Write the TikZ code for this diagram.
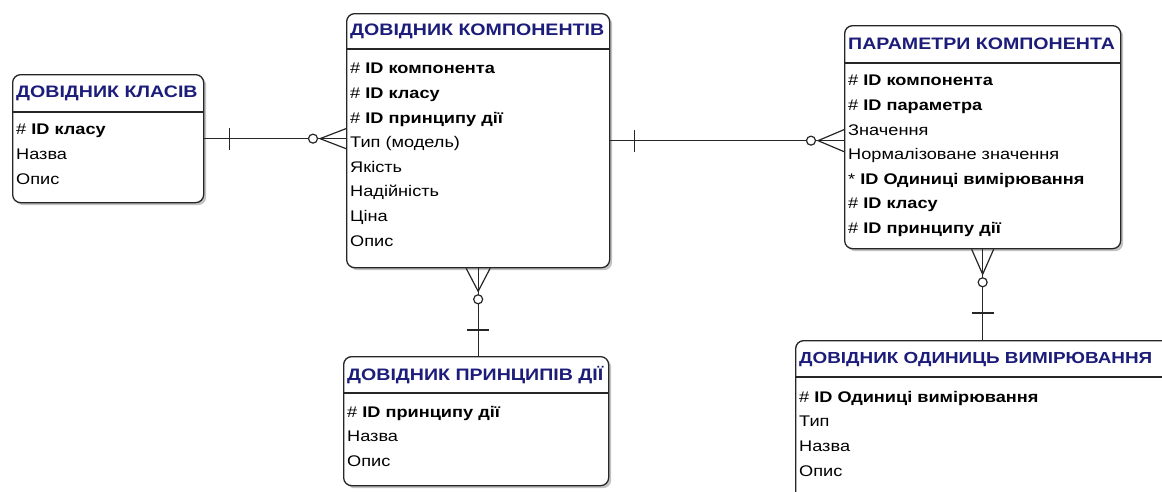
\documentclass[tikz,border=0pt]{standalone}
\usepackage{fontspec}
\setmainfont{Liberation Sans}[FakeStretch=1.18]
\usetikzlibrary{calc}
\usetikzlibrary{shadows}
\definecolor{hdrblue}{RGB}{28,28,122}

\begin{document}
\begin{tikzpicture}[x=1pt, y=-1pt,
  entity/.style={draw=black!85, line width=1.3pt, rounded corners=8pt, fill=white, anchor=north west, inner sep=0pt,
    drop shadow={shadow xshift=2.5pt, shadow yshift=-2.5pt, fill=black!40, opacity=0.6}},
  title/.style={anchor=west, inner sep=0pt, text=hdrblue, font=\fontsize{16.6}{18}\selectfont\bfseries},
  attrs/.style={anchor=north west, inner sep=0pt, align=left, font=\fontsize{15.4}{24.6}\selectfont},
  rel/.style={line width=1.2pt, draw=black!85},
  ring/.style={circle, draw=black!85, line width=1.2pt, fill=white, inner sep=0pt, minimum size=9pt}]
\useasboundingbox (0,0) rectangle (1162,491);
\clip (0,0) rectangle (1162,491);

  \node[entity, minimum width=191, minimum height=128] (kl) at (12,74) {};
  \draw[rel] ($(kl.north west)+(0,38)$) -- ($(kl.north east)+(0,38)$);
  \node[title] (kl-t) at ($(kl.north west)+(4,19)$) {ДОВІДНИК КЛАСІВ};
  \node[attrs] (kl-a) at ($(kl.north west)+(4,50)$) {\# \textbf{ID класу}\\Назва\\Опис};

  \node[entity, minimum width=263, minimum height=254] (komp) at (346,13) {};
  \draw[rel] ($(komp.north west)+(0,36)$) -- ($(komp.north east)+(0,36)$);
  \node[title] (komp-t) at ($(komp.north west)+(4,18)$) {ДОВІДНИК КОМПОНЕНТІВ};
  \node[attrs] (komp-a) at ($(komp.north west)+(4,50)$) {\# \textbf{ID компонента}\\\# \textbf{ID класу}\\\# \textbf{ID принципу дії}\\Тип (модель)\\Якість\\Надійність\\Ціна\\Опис};

  \node[entity, minimum width=276, minimum height=223] (par) at (844,25) {};
  \draw[rel] ($(par.north west)+(0,38)$) -- ($(par.north east)+(0,38)$);
  \node[title] (par-t) at ($(par.north west)+(4,19)$) {ПАРАМЕТРИ КОМПОНЕНТА};
  \node[attrs] (par-a) at ($(par.north west)+(4,50)$) {\# \textbf{ID компонента}\\\# \textbf{ID параметра}\\Значення\\Нормалізоване значення\\* \textbf{ID Одиниці вимірювання}\\\# \textbf{ID класу}\\\# \textbf{ID принципу дії}};

  \node[entity, minimum width=265, minimum height=129] (prin) at (343,356) {};
  \draw[rel] ($(prin.north west)+(0,37)$) -- ($(prin.north east)+(0,37)$);
  \node[title] (prin-t) at ($(prin.north west)+(4,19)$) {ДОВІДНИК ПРИНЦИПІВ ДІЇ};
  \node[attrs] (prin-a) at ($(prin.north west)+(4,50)$) {\# \textbf{ID принципу дії}\\Назва\\Опис};

  \node[entity, minimum width=374, minimum height=160] (od) at (795,340) {};
  \draw[rel] ($(od.north west)+(0,37)$) -- ($(od.north east)+(0,37)$);
  \node[title, font=\fontsize{16}{18}\selectfont\bfseries] (od-t) at ($(od.north west)+(4,19)$) {ДОВІДНИК ОДИНИЦЬ ВИМІРЮВАННЯ};
  \node[attrs] (od-a) at ($(od.north west)+(4,51)$) {\# \textbf{ID Одиниці вимірювання}\\Тип\\Назва\\Опис};

  \draw[rel] (kl.east) -- (kl.east -| komp.west) coordinate (c1);
  \draw[rel] ($(kl.east)+(25,-11)$) -- ($(kl.east)+(25,11)$);
  \draw[rel] ($(c1)+(-26,0)$) -- ($(c1)+(0,-10)$) ($(c1)+(-26,0)$) -- ($(c1)+(0,10)$);
  \node[ring] (r1) at ($(c1)+(-33,0)$) {};

  \draw[rel] (komp.east) -- (komp.east -| par.west) coordinate (c2);
  \draw[rel] ($(komp.east)+(24,-11)$) -- ($(komp.east)+(24,11)$);
  \draw[rel] ($(c2)+(-26,0)$) -- ($(c2)+(0,-11)$) ($(c2)+(-26,0)$) -- ($(c2)+(0,11)$);
  \node[ring] (r2) at ($(c2)+(-33,0)$) {};

  \draw[rel] (komp.south) -- (komp.south |- prin.north) coordinate (c3);
  \draw[rel] ($(komp.south)+(-12,0)$) -- ($(komp.south)+(0,23)$) -- ($(komp.south)+(12,0)$);
  \node[ring] (r3) at ($(komp.south)+(0,31)$) {};
  \draw[rel] ($(c3)+(-11,-26)$) -- ($(c3)+(11,-26)$);

  \draw[rel] (par.south) -- (par.south |- od.north) coordinate (c4);
  \draw[rel] ($(par.south)+(-11,0)$) -- ($(par.south)+(0,25)$) -- ($(par.south)+(11,0)$);
  \node[ring] (r4) at ($(par.south)+(0,33)$) {};
  \draw[rel] ($(c4)+(-11,-27)$) -- ($(c4)+(11,-27)$);

\end{tikzpicture}
\end{document}
